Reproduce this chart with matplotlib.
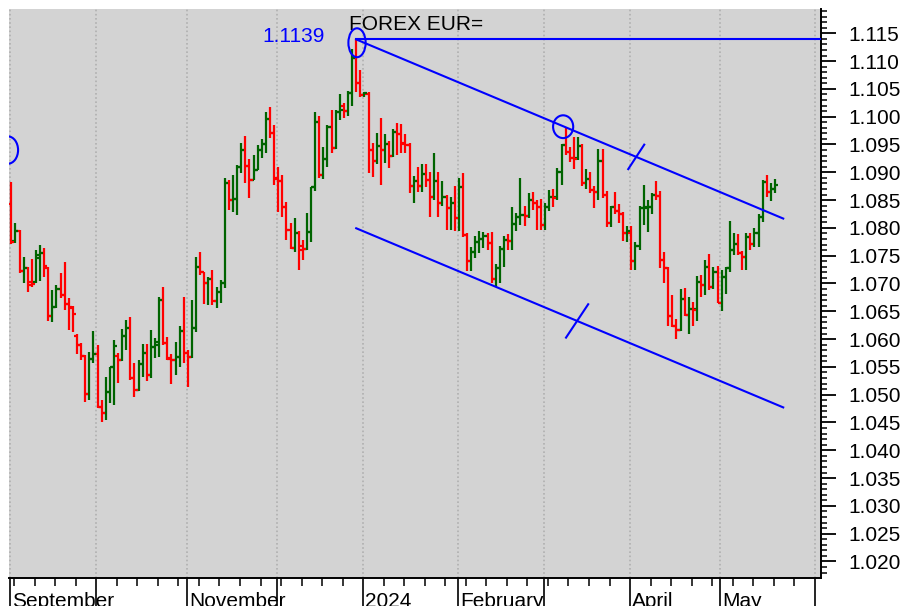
import matplotlib.pyplot as plt
import matplotlib.transforms as mtransforms
from matplotlib.patches import Ellipse
from matplotlib.ticker import MultipleLocator, FormatStrFormatter
import numpy as np
import pandas as pd

plt.rcParams['font.family'] = ['Liberation Sans', 'DejaVu Sans']

# daily EUR/USD bars, one per weekday, 1 Sep 2023 .. 20 May 2024
dates = pd.bdate_range('2023-09-01', '2024-05-20')

opens = [
    # Sep
    1.0843, 1.0776, 1.0794, 1.0722, 1.0727, 1.0703, 1.0702, 1.0745, 1.0755, 1.0728, 1.0642,
    1.0658, 1.0690, 1.0680, 1.0663, 1.0656, 1.0605, 1.0590, 1.0570, 1.0502, 1.0565,
    # Oct
    1.0573, 1.0477, 1.0467, 1.0505, 1.0549, 1.0570, 1.0563, 1.0605, 1.0620, 1.0530, 1.0508,
    1.0555, 1.0575, 1.0535, 1.0585, 1.0590, 1.0670, 1.0593, 1.0566, 1.0563, 1.0567, 1.0615,
    # Nov
    1.0575, 1.0568, 1.0620, 1.0730, 1.0720, 1.0700, 1.0708, 1.0668, 1.0685, 1.0700, 1.0880,
    1.0850, 1.0852, 1.0910, 1.0940, 1.0912, 1.0887, 1.0905, 1.0940, 1.0950, 1.0995, 1.0970,
    # Dec
    1.0890, 1.0884, 1.0837, 1.0796, 1.0764, 1.0790, 1.0768, 1.0762, 1.0793, 1.0873, 1.0991,
    1.0895, 1.0924, 1.0981, 1.0944, 1.1008, 1.1020, 1.1010, 1.1042, 1.1106, 1.1061,
    # Jan
    1.1039, 1.1040, 1.0940, 1.0920, 1.0948, 1.0940, 1.0950, 1.0930, 1.0973, 1.0968, 1.0952,
    1.0949, 1.0875, 1.0884, 1.0875, 1.0897, 1.0887, 1.0855, 1.0885, 1.0845, 1.0855, 1.0835,
    1.0845,
    # Feb
    1.0818, 1.0873, 1.0788, 1.0741, 1.0756, 1.0775, 1.0780, 1.0785, 1.0772, 1.0708, 1.0727,
    1.0762, 1.0778, 1.0777, 1.0807, 1.0820, 1.0823, 1.0821, 1.0850, 1.0845, 1.0838,
    # Mar
    1.0805, 1.0838, 1.0855, 1.0855, 1.0900, 1.0949, 1.0937, 1.0926, 1.0926, 1.0948, 1.0880,
    1.0888, 1.0868, 1.0865, 1.0921, 1.0860, 1.0809, 1.0838, 1.0830, 1.0825, 1.0790,
    # Apr
    1.0790, 1.0741, 1.0768, 1.0836, 1.0836, 1.0837, 1.0860, 1.0857, 1.0742, 1.0727, 1.0641,
    1.0624, 1.0617, 1.0673, 1.0643, 1.0655, 1.0655, 1.0703, 1.0697, 1.0729, 1.0694, 1.0720,
    # May
    1.0665, 1.0712, 1.0728, 1.0761, 1.0771, 1.0754, 1.0748, 1.0783, 1.0771, 1.0790, 1.0820,
    1.0883, 1.0865, 1.0870,
]
highs = [
    1.0882, 1.0808, 1.0796, 1.0747, 1.0729, 1.0744, 1.0760, 1.0769, 1.0764, 1.0730, 1.0689,
    1.0698, 1.0719, 1.0739, 1.0674, 1.0660, 1.0609, 1.0593, 1.0571, 1.0577, 1.0614,
    1.0589, 1.0490, 1.0532, 1.0550, 1.0598, 1.0575, 1.0618, 1.0634, 1.0640, 1.0557, 1.0562,
    1.0592, 1.0592, 1.0616, 1.0602, 1.0676, 1.0694, 1.0604, 1.0574, 1.0595, 1.0624, 1.0676,
    1.0580, 1.0670, 1.0747, 1.0756, 1.0721, 1.0712, 1.0725, 1.0694, 1.0706, 1.0890, 1.0886,
    1.0895, 1.0913, 1.0952, 1.0965, 1.0924, 1.0931, 1.0949, 1.0960, 1.1008, 1.1017, 1.0985,
    1.0910, 1.0895, 1.0847, 1.0809, 1.0817, 1.0795, 1.0778, 1.0826, 1.0874, 1.1008, 1.1002,
    1.0946, 1.0985, 1.1012, 1.1012, 1.1040, 1.1024, 1.1047, 1.1122, 1.1139, 1.1084,
    1.1045, 1.1045, 1.0952, 1.0970, 1.0998, 1.0969, 1.0956, 1.0978, 1.0989, 1.0986, 1.0968,
    1.0953, 1.0894, 1.0910, 1.0915, 1.0915, 1.0901, 1.0935, 1.0900, 1.0884, 1.0859, 1.0855,
    1.0875,
    1.0889, 1.0899, 1.0790, 1.0765, 1.0785, 1.0795, 1.0793, 1.0790, 1.0793, 1.0735, 1.0768,
    1.0785, 1.0789, 1.0838, 1.0827, 1.0890, 1.0840, 1.0863, 1.0865, 1.0850, 1.0852,
    1.0845, 1.0868, 1.0870, 1.0907, 1.0951, 1.0981, 1.0945, 1.0964, 1.0963, 1.0950, 1.0906,
    1.0901, 1.0876, 1.0942, 1.0942, 1.0867, 1.0839, 1.0864, 1.0843, 1.0829, 1.0803,
    1.0803, 1.0775, 1.0840, 1.0877, 1.0850, 1.0862, 1.0885, 1.0866, 1.0756, 1.0730, 1.0679,
    1.0637, 1.0690, 1.0691, 1.0675, 1.0667, 1.0713, 1.0716, 1.0743, 1.0753, 1.0730, 1.0732,
    1.0725, 1.0730, 1.0812, 1.0790, 1.0789, 1.0759, 1.0790, 1.0790, 1.0800, 1.0825, 1.0887,
    1.0895, 1.0880, 1.0888,
]
lows = [
    1.0771, 1.0773, 1.0719, 1.0701, 1.0685, 1.0694, 1.0700, 1.0704, 1.0711, 1.0632, 1.0631,
    1.0656, 1.0674, 1.0652, 1.0617, 1.0613, 1.0573, 1.0562, 1.0487, 1.0490, 1.0557,
    1.0476, 1.0451, 1.0455, 1.0485, 1.0481, 1.0521, 1.0560, 1.0580, 1.0527, 1.0496, 1.0506,
    1.0532, 1.0525, 1.0530, 1.0566, 1.0568, 1.0590, 1.0562, 1.0520, 1.0536, 1.0549, 1.0557,
    1.0514, 1.0566, 1.0612, 1.0715, 1.0663, 1.0662, 1.0662, 1.0656, 1.0665, 1.0692, 1.0832,
    1.0828, 1.0823, 1.0898, 1.0880, 1.0854, 1.0886, 1.0905, 1.0926, 1.0935, 1.0961, 1.0877,
    1.0829, 1.0820, 1.0778, 1.0762, 1.0757, 1.0724, 1.0742, 1.0760, 1.0775, 1.0866, 1.0889,
    1.0888, 1.0910, 1.0934, 1.0941, 1.0994, 1.0997, 1.1001, 1.1020, 1.1045, 1.1036,
    1.1036, 1.0898, 1.0892, 1.0915, 1.0877, 1.0917, 1.0908, 1.0928, 1.0931, 1.0935, 1.0935,
    1.0863, 1.0844, 1.0865, 1.0865, 1.0874, 1.0820, 1.0850, 1.0820, 1.0839, 1.0796, 1.0796,
    1.0795,
    1.0795, 1.0784, 1.0723, 1.0722, 1.0745, 1.0755, 1.0763, 1.0761, 1.0701, 1.0694, 1.0700,
    1.0730, 1.0761, 1.0761, 1.0794, 1.0805, 1.0804, 1.0818, 1.0833, 1.0797, 1.0796,
    1.0796, 1.0830, 1.0837, 1.0850, 1.0877, 1.0932, 1.0918, 1.0906, 1.0922, 1.0876, 1.0870,
    1.0862, 1.0836, 1.0851, 1.0853, 1.0802, 1.0802, 1.0825, 1.0808, 1.0776, 1.0774,
    1.0724, 1.0724, 1.0760, 1.0805, 1.0792, 1.0825, 1.0851, 1.0728, 1.0700, 1.0623, 1.0622,
    1.0601, 1.0615, 1.0641, 1.0610, 1.0624, 1.0633, 1.0676, 1.0680, 1.0689, 1.0690, 1.0665,
    1.0650, 1.0681, 1.0720, 1.0752, 1.0751, 1.0724, 1.0724, 1.0760, 1.0765, 1.0766, 1.0810,
    1.0855, 1.0848, 1.0862,
]
closes = [
    1.0775, 1.0794, 1.0722, 1.0727, 1.0697, 1.0699, 1.0752, 1.0755, 1.0731, 1.0642, 1.0658,
    1.0690, 1.0680, 1.0663, 1.0658, 1.0645, 1.0590, 1.0570, 1.0502, 1.0565, 1.0573,
    1.0477, 1.0467, 1.0505, 1.0549, 1.0588, 1.0563, 1.0605, 1.0620, 1.0530, 1.0508, 1.0555,
    1.0575, 1.0535, 1.0585, 1.0595, 1.0670, 1.0593, 1.0565, 1.0563, 1.0567, 1.0615, 1.0575,
    1.0568, 1.0620, 1.0730, 1.0720, 1.0700, 1.0708, 1.0668, 1.0685, 1.0700, 1.0880, 1.0850,
    1.0852, 1.0910, 1.0940, 1.0912, 1.0887, 1.0905, 1.0940, 1.0950, 1.0995, 1.0970, 1.0888,
    1.0884, 1.0837, 1.0796, 1.0764, 1.0790, 1.0760, 1.0762, 1.0793, 1.0873, 1.0991, 1.0895,
    1.0924, 1.0981, 1.0944, 1.1008, 1.1012, 1.1010, 1.1042, 1.1106, 1.1061, 1.1039,
    1.1042, 1.0940, 1.0920, 1.0948, 1.0940, 1.0950, 1.0930, 1.0973, 1.0968, 1.0950, 1.0949,
    1.0875, 1.0884, 1.0875, 1.0897, 1.0887, 1.0855, 1.0885, 1.0845, 1.0855, 1.0835, 1.0845,
    1.0818,
    1.0873, 1.0788, 1.0741, 1.0756, 1.0775, 1.0780, 1.0785, 1.0772, 1.0708, 1.0727, 1.0762,
    1.0778, 1.0777, 1.0807, 1.0820, 1.0823, 1.0821, 1.0850, 1.0845, 1.0838, 1.0805,
    1.0838, 1.0855, 1.0853, 1.0900, 1.0949, 1.0937, 1.0926, 1.0924, 1.0948, 1.0880, 1.0888,
    1.0868, 1.0865, 1.0921, 1.0860, 1.0809, 1.0838, 1.0830, 1.0825, 1.0790, 1.0795,
    1.0741, 1.0768, 1.0836, 1.0838, 1.0837, 1.0860, 1.0857, 1.0742, 1.0727, 1.0641, 1.0624,
    1.0617, 1.0673, 1.0643, 1.0655, 1.0653, 1.0703, 1.0697, 1.0729, 1.0694, 1.0720, 1.0665,
    1.0712, 1.0728, 1.0761, 1.0771, 1.0754, 1.0748, 1.0783, 1.0771, 1.0790, 1.0820, 1.0883,
    1.0865, 1.0870, 1.0878,
]

month_names = ['September', '', 'November', '', '2024', 'February', '', 'April', 'May', '']

RED = '#ff0000'
GREEN = '#006400'
BLUE = '#0000ff'

o = np.array(opens)
h = np.array(highs)
l = np.array(lows)
c = np.array(closes)
x = np.arange(len(dates))

# first weekday of each month, Sep 2023 .. Jun 2024
all_days = pd.bdate_range('2023-09-01', '2024-06-03')
month_pos = np.array([i for i in range(len(all_days))
                      if i == 0 or all_days[i].month != all_days[i - 1].month])
monday_pos = np.array([i for i in range(len(all_days))
                       if all_days[i].weekday() == 0 and i not in month_pos])

fig = plt.figure(figsize=(9.08, 6.06), dpi=100)
ax = fig.add_axes([9 / 908, 28 / 606, 812 / 908, 569 / 606])
ax.set_facecolor('#d3d3d3')

# OHLC bars
cols = np.where(c >= o, GREEN, RED)
ax.vlines(x, l, h, colors=cols, lw=1.6, zorder=3)
ax.hlines(o, x - 0.75, x, colors=cols, lw=1.6, zorder=3)
ax.hlines(c, x, x + 0.75, colors=cols, lw=1.6, zorder=3)

# axes look
for s in ['left', 'top']:
    ax.spines[s].set_visible(False)
for s in ['right', 'bottom']:
    ax.spines[s].set_linewidth(1.4)

ax.yaxis.tick_right()
ax.yaxis.set_major_locator(MultipleLocator(0.005))
ax.yaxis.set_minor_locator(MultipleLocator(0.001))
ax.yaxis.set_major_formatter(FormatStrFormatter('%.3f'))
ax.tick_params(axis='y', which='major', length=11, width=1.3, pad=9, labelsize=15)
ax.tick_params(axis='y', which='minor', length=4.5, width=1.1)

ax.set_xticks(month_pos - 0.3)
ax.set_xticks(monday_pos - 0.3, minor=True)
ax.set_xticklabels([])
ax.tick_params(axis='x', which='major', length=20, width=1.2)
ax.tick_params(axis='x', which='minor', length=5.5, width=1.1)
ax.grid(axis='x', which='major', color='#b0b0b0', linestyle=(0, (1, 1.5)), lw=1.2, zorder=1)
ax.set_axisbelow(True)

trans = mtransforms.blended_transform_factory(ax.transData, ax.transAxes)
for pos, name in zip(month_pos, month_names):
    if name:
        ax.text(pos + 0.25, -0.051, name, transform=trans, fontsize=15,
                ha='left', va='baseline')

# annotations: record high, downward channel
peak_i = int(np.argmax(h))
mar_i = 135
slope = (h[mar_i] - h[peak_i]) / (mar_i - peak_i)
low_i = int(np.argmin(l[109:130])) + 109
end_i = 188
ch_x = np.array([peak_i, end_i])
upper = h[peak_i] + slope * (ch_x - peak_i)
lower = l[low_i] + slope * (ch_x - low_i)
ax.plot(ch_x, upper, color=BLUE, lw=1.5, zorder=4)
ax.plot(ch_x, lower, color=BLUE, lw=1.5, zorder=4)
ax.plot([peak_i, 200], [h[peak_i], h[peak_i]], color=BLUE, lw=1.5, zorder=4)


def cross_tick(ci, line_at, di, dv):
    cv = line_at + slope * (ci - peak_i)
    ax.plot([ci - di, ci + di], [cv - dv, cv + dv], color=BLUE, lw=1.5, zorder=4)


cross_tick(152.2, h[peak_i], 1.95, 0.0022)
lower0 = l[low_i] + slope * (peak_i - low_i)
cross_tick(137.8, lower0, 2.7, 0.0030)

for cx, cy, w, hh in [(84.2, 1.1133, 4.2, 0.0052), (134.4, 1.0982, 4.9, 0.0041),
                      (-0.8, 1.0940, 4.9, 0.0049)]:
    ax.add_patch(Ellipse((cx, cy), w, hh, fill=False, ec=BLUE, lw=1.5, zorder=5))

ax.text(peak_i - 7.6, 1.1135, f'{h[peak_i]:.4f}', color=BLUE, fontsize=15,
        ha='right', va='baseline')
ax.text(0.4187, 0.9631, 'FOREX EUR=', transform=ax.transAxes, fontsize=15,
        ha='left', va='baseline')

# limits last, so the tick lists do not widen them
ax.set_xlim(-0.56, 197.2)
ax.set_ylim(1.01703, 1.11937)

fig.savefig('out.png', dpi=100)
